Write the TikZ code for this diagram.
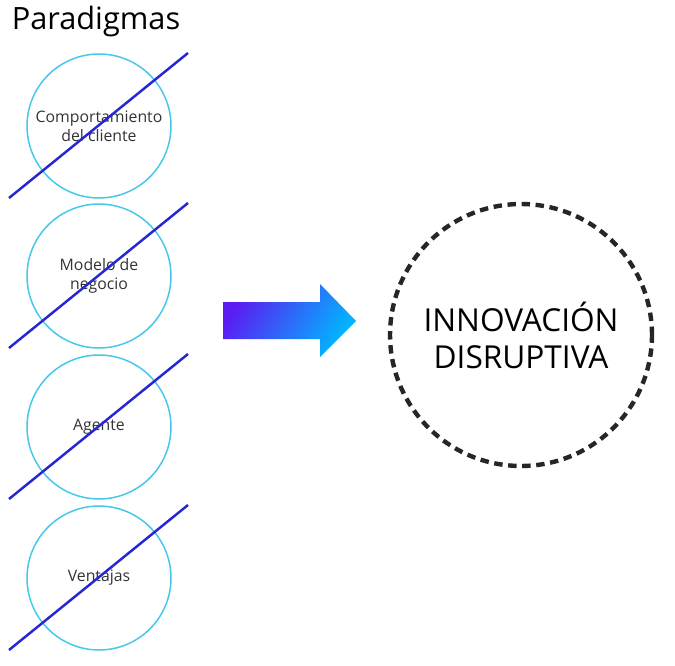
\documentclass[tikz,border=0pt]{standalone}
\usepackage{fontspec}
\setmainfont{Open Sans}
\usetikzlibrary{calc,positioning}

\definecolor{ringcyan}{HTML}{45C8EC}
\definecolor{strikeblue}{HTML}{2626D2}
\definecolor{labelgray}{HTML}{333333}
\definecolor{flowviolet}{HTML}{5A1CF2}
\definecolor{flowblue}{HTML}{0A14F0}
\definecolor{flowcyan}{HTML}{00B8FF}

\begin{document}
\begin{tikzpicture}[x=0.02cm, y=-0.02cm,
  para/.style={draw=ringcyan, line width=0.85pt, circle, minimum size=2.88cm,
    align=center, inner sep=0pt, text=labelgray,
    font=\fontsize{9}{10.8}\selectfont},
  strike/.style={draw=strikeblue, line width=1.4pt},
  target/.style={draw=black!85, circle, line width=2.5pt,
    dash pattern=on 4.8pt off 3.2pt, minimum size=5.24cm, align=center,
    font=\fontsize{18}{21}\selectfont},
  flow/.style={left color=flowviolet, middle color=flowblue, right color=flowcyan,
    shading angle=60},
]
\useasboundingbox (0,0) rectangle (675,665);

%--- Titulo ---
\node[font=\fontsize{17.5}{20}\selectfont] (title) at (96,22) {Paradigmas};

%--- Paradigmas ---
\node[para] (p1) at (99,126) {Comportamiento\\del cliente};
\node[para] (p2) at (99,276) {Modelo de\\negocio};
\node[para] (p3) at (99,427) {Agente};
\node[para] (p4) at (99,578) {Ventajas};

%--- Tachado ---
\draw[strike] ($(p1)+(-90,72)$) -- ($(p1)+(89,-73)$);
\draw[strike] ($(p2)+(-90,72)$) -- ($(p2)+(89,-73)$);
\draw[strike] ($(p3)+(-90,72)$) -- ($(p3)+(89,-73)$);
\draw[strike] ($(p4)+(-90,72)$) -- ($(p4)+(89,-73)$);

%--- Flecha ---
\shade[flow] (223,302) -- (320,302) -- (320,284) -- (356,321)
  -- (320,357) -- (320,339) -- (223,339) -- cycle;

%--- Resultado ---
\node[target] (inno) at (521,335) {INNOVACIÓN\\DISRUPTIVA};

\end{tikzpicture}
\end{document}
